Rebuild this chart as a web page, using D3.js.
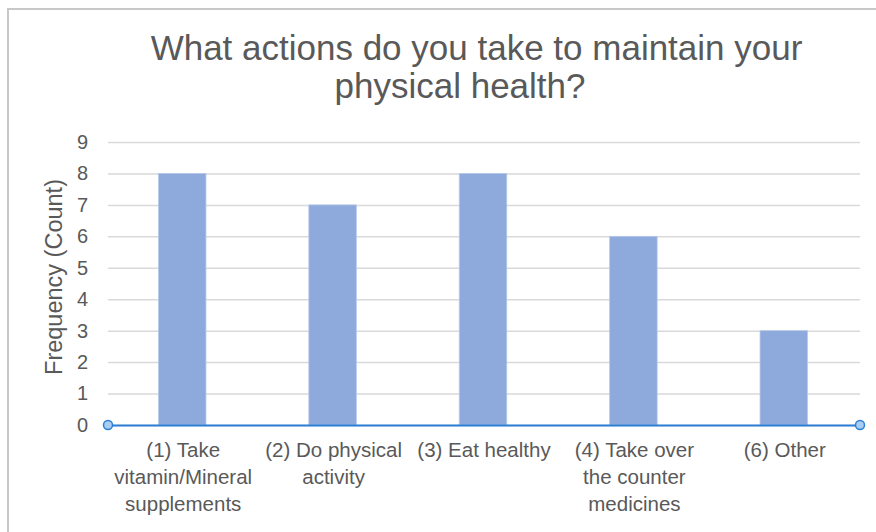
<!DOCTYPE html>
<html>
<head>
<meta charset="utf-8">
<script src="https://cdn.jsdelivr.net/npm/d3@7"></script>
<style>
  html, body { margin: 0; padding: 0; background: #ffffff; }
  svg { display: block; font-family: "Liberation Sans", Arial, Helvetica, sans-serif; }
</style>
</head>
<body>
<svg id="chart" width="876" height="532"></svg>
<script>
// ---- data ----
const titleLines = ["What actions do you take to maintain your", "physical health?"];
const yAxisTitle = "Frequency (Count)";
const categories = [
  "(1) Take\nvitamin/Mineral\nsupplements",
  "(2) Do physical\nactivity",
  "(3) Eat healthy",
  "(4) Take over\nthe counter\nmedicines",
  "(6) Other"
];
const counts = [8, 7, 8, 6, 3];
const yTicks = [0, 1, 2, 3, 4, 5, 6, 7, 8, 9];

// ---- layout ----
const svg = d3.select("#chart");
const plot = { left: 108, right: 860, top: 142, bottom: 425 };
const textColor = "#595959";

// outer frame
svg.append("rect")
  .attr("x", 8).attr("y", 9)
  .attr("width", 960).attr("height", 620)
  .attr("fill", "none")
  .attr("stroke", "#c8c8c8")
  .attr("stroke-width", 2);

// title
svg.append("text")
  .attr("x", 476.5).attr("y", 60)
  .attr("text-anchor", "middle")
  .attr("font-size", 35)
  .attr("fill", textColor)
  .text(titleLines[0]);
svg.append("text")
  .attr("x", 460).attr("y", 98)
  .attr("text-anchor", "middle")
  .attr("font-size", 35)
  .attr("fill", textColor)
  .text(titleLines[1]);

// scales
const x = d3.scaleBand()
  .domain(categories)
  .range([plot.left, plot.right])
  .paddingInner(0.684)
  .paddingOuter(0.342);

const y = d3.scaleLinear()
  .domain([0, 9])
  .range([plot.bottom, plot.top]);

// gridlines + y tick labels
const yAxis = d3.axisLeft(y)
  .tickValues(yTicks)
  .tickFormat(d3.format("d"))
  .tickSize(-(plot.right - plot.left))
  .tickPadding(20);

const gy = svg.append("g")
  .attr("transform", `translate(${plot.left},0)`)
  .call(yAxis);
gy.select(".domain").remove();
gy.selectAll(".tick line")
  .attr("stroke", "#d9d9d9")
  .attr("stroke-width", 1.5);
gy.selectAll(".tick text")
  .attr("font-size", 20)
  .attr("fill", textColor)
  .attr("font-family", "'Liberation Sans', Arial, Helvetica, sans-serif");

// y axis title
svg.append("text")
  .attr("transform", `translate(62,277) rotate(-90)`)
  .attr("text-anchor", "middle")
  .attr("font-size", 23.5)
  .attr("fill", textColor)
  .text(yAxisTitle);

// bars
svg.append("g")
  .selectAll("rect")
  .data(categories)
  .join("rect")
  .attr("x", d => x(d) - 1)
  .attr("width", x.bandwidth())
  .attr("y", (d, i) => y(counts[i]))
  .attr("height", (d, i) => y(0) - y(counts[i]))
  .attr("fill", "#8eaadc")
  .attr("stroke", "#b7c9ea")
  .attr("stroke-width", 0.8);

// x axis (blue baseline with circle end-caps)
const xAxis = d3.axisBottom(x).tickSize(0).tickPadding(0).tickFormat("");
const gx = svg.append("g")
  .attr("transform", `translate(0,${plot.bottom})`)
  .call(xAxis);
gx.select(".domain")
  .attr("stroke", "#2b7fd4")
  .attr("stroke-width", 2);

// x labels (multi-line)
gx.selectAll(".tick").each(function(d) {
  const t = d3.select(this).append("text")
    .attr("text-anchor", "middle")
    .attr("font-size", 20.5)
    .attr("fill", textColor)
    .attr("y", 32);
  d.split("\n").forEach((line, i) => {
    t.append("tspan")
      .attr("x", 0)
      .attr("y", 32 + i * 27)
      .text(line);
  });
});

svg.append("g")
  .selectAll("circle")
  .data(x.range())
  .join("circle")
  .attr("cx", d => d)
  .attr("cy", y(0))
  .attr("r", 4.5)
  .attr("fill", "#a9cdf2")
  .attr("stroke", "#2b7fd4")
  .attr("stroke-width", 1.5);
</script>
</body>
</html>
